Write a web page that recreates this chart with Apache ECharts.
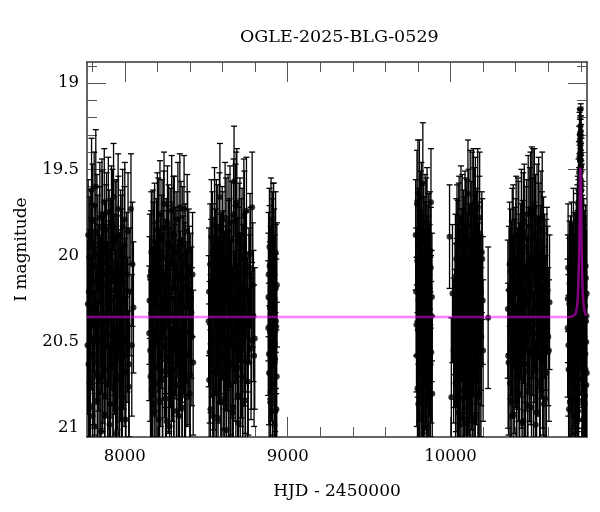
<!DOCTYPE html>
<html>
<head>
<meta charset="utf-8">
<script src="https://cdn.jsdelivr.net/npm/echarts@6/dist/echarts.min.js"></script>
<style>html,body{margin:0;padding:0;background:#fff}#c{width:600px;height:512px}</style>
</head>
<body>
<div id="c"></div>
<script>
// ---- Data: [HJD-2450000, I mag, error] per observing season (two interleaved runs each) ----
const obs2017 = [[7771,20.52,.40],[7775,19.88,.32],[7779,20.21,.36],[7784,20.74,.44],[7788,19.95,.33],[7791,20.40,.38],[7796,19.62,.30],[7800,20.05,.35],[7803,20.93,.46],[7808,20.30,.37],[7812,19.71,.31],[7816,20.62,.42],[7819,20.15,.36],[7822,19.60,.33],[7827,20.47,.39],[7831,20.84,.45],[7835,19.99,.34],[7838,20.36,.38],[7842,20.71,.43],[7847,19.78,.32],[7851,20.27,.37],[7855,21.02,.48],[7858,20.10,.35],[7862,19.84,.33],[7866,20.56,.41],[7871,20.33,.38],[7874,19.69,.31],[7878,20.81,.44],[7883,20.44,.39],[7886,19.93,.34],[7890,20.18,.36],[7895,20.66,.42],[7899,19.75,.32],[7902,20.38,.38],[7906,20.98,.47],[7911,20.02,.35],[7915,20.54,.40],[7918,19.81,.33],[7922,20.26,.37],[7927,20.77,.44],[7931,19.66,.31],[7934,20.42,.39],[7939,20.12,.36],[7943,20.89,.46],[7947,19.90,.34],[7950,20.35,.38],[7955,20.60,.41],[7959,19.73,.32],[7963,20.22,.37],[7967,21.08,.49],[7971,20.48,.40],[7975,19.96,.34],[7979,20.69,.43],[7983,20.08,.35],[7987,19.83,.33],[7991,20.31,.38],[7996,20.58,.41],[8000,19.79,.33],[8004,20.95,.47],[8009,20.20,.36],[8014,20.45,.40],[8020,19.86,.34],[8027,20.63,.42],[8038,19.73,.32],[8047,20.05,.36]];
const obs2017b = [[7773,20.28,.37],[7777,20.63,.42],[7782,20.01,.35],[7786,20.47,.39],[7790,20.88,.46],[7794,20.14,.36],[7798,20.39,.38],[7802,19.80,.33],[7806,20.57,.41],[7810,20.22,.37],[7814,20.99,.47],[7818,20.06,.35],[7824,20.33,.38],[7829,19.87,.34],[7833,20.69,.43],[7837,20.18,.36],[7840,20.50,.40],[7845,19.94,.34],[7849,20.79,.44],[7853,20.25,.37],[7857,20.41,.39],[7860,19.76,.32],[7864,20.60,.42],[7869,20.11,.36],[7873,20.36,.38],[7876,20.92,.47],[7881,20.03,.35],[7885,20.53,.41],[7888,19.85,.33],[7893,20.29,.37],[7897,20.74,.44],[7901,20.16,.36],[7904,19.97,.35],[7909,20.46,.40],[7913,20.86,.46],[7917,20.09,.35],[7920,20.37,.38],[7925,19.83,.33],[7929,20.65,.42],[7933,20.20,.37],[7937,20.52,.40],[7941,19.91,.34],[7945,20.31,.38],[7949,21.03,.49],[7953,20.13,.36],[7957,20.43,.39],[7961,19.88,.34],[7965,20.71,.43],[7969,20.24,.37],[7973,20.55,.41],[7977,20.00,.35],[7981,20.34,.38],[7985,20.82,.45],[7989,20.15,.36],[7993,20.49,.40],[7998,19.94,.34],[8002,20.27,.37],[8007,20.67,.43],[8012,20.11,.36],[8017,20.40,.39],[8024,20.76,.44],[8031,20.21,.37],[8043,20.52,.41],[8053,20.30,.38]];
const obs2018 = [[8150,20.45,.39],[8154,20.12,.36],[8158,20.70,.43],[8163,19.98,.35],[8167,20.33,.38],[8171,20.86,.45],[8175,20.05,.36],[8179,20.51,.40],[8183,19.92,.34],[8187,20.28,.37],[8191,20.74,.44],[8196,20.16,.36],[8200,19.85,.33],[8204,20.40,.39],[8208,20.95,.47],[8212,20.22,.37],[8216,19.76,.31],[8221,20.58,.41],[8225,20.35,.38],[8229,19.90,.34],[8233,20.67,.42],[8237,20.10,.36],[8241,19.70,.30],[8246,20.48,.40],[8250,20.83,.45],[8254,20.02,.35],[8258,20.30,.38],[8262,19.81,.33],[8267,20.61,.42],[8271,20.19,.36],[8275,20.99,.48],[8279,19.95,.34],[8283,20.38,.39],[8288,19.74,.32],[8292,20.55,.41],[8296,20.25,.37],[8300,20.79,.44],[8304,19.88,.34],[8309,20.44,.39],[8313,20.07,.35],[8317,20.90,.46],[8321,20.32,.38],[8326,19.79,.33],[8330,20.64,.42],[8334,20.14,.36],[8338,19.72,.31],[8343,20.50,.40],[8347,20.27,.37],[8351,20.88,.46],[8356,19.94,.34],[8360,20.41,.39],[8364,19.73,.31],[8369,20.18,.37],[8373,20.72,.43],[8378,20.36,.38],[8383,19.86,.33],[8388,20.57,.41],[8393,20.09,.36],[8399,20.80,.45],[8405,20.24,.37],[8412,20.47,.40],[8420,20.62,.42]];
const obs2018b = [[8152,20.26,.37],[8156,20.55,.41],[8161,20.09,.35],[8165,20.78,.44],[8169,20.35,.38],[8173,19.96,.34],[8177,20.43,.39],[8181,20.92,.47],[8185,20.17,.36],[8189,20.50,.40],[8194,20.02,.35],[8198,20.64,.42],[8202,20.29,.37],[8206,19.89,.34],[8210,20.46,.40],[8214,20.84,.45],[8218,20.12,.36],[8223,20.38,.39],[8227,20.00,.35],[8231,20.71,.43],[8235,20.24,.37],[8239,19.84,.33],[8244,20.53,.41],[8248,20.15,.36],[8252,20.41,.39],[8256,20.96,.48],[8260,20.06,.35],[8265,20.32,.38],[8269,19.93,.34],[8273,20.60,.42],[8277,20.21,.37],[8281,20.48,.40],[8286,20.87,.46],[8290,20.04,.35],[8294,20.34,.38],[8298,19.87,.33],[8302,20.66,.42],[8306,20.19,.37],[8311,20.42,.39],[8315,19.98,.35],[8319,20.75,.44],[8324,20.28,.37],[8328,20.52,.41],[8332,20.10,.36],[8336,20.93,.47],[8341,20.23,.37],[8345,19.91,.34],[8349,20.45,.40],[8353,20.68,.43],[8358,20.13,.36],[8362,20.37,.38],[8367,20.81,.45],[8371,20.05,.35],[8376,20.30,.38],[8381,20.58,.41],[8386,19.97,.34],[8391,20.44,.39],[8396,20.20,.37],[8402,20.69,.43],[8409,20.33,.38],[8416,20.11,.36]];
const obs2019 = [[8515,20.38,.38],[8518,20.72,.44],[8524,20.05,.35],[8527,20.51,.40],[8532,19.89,.33],[8535,20.27,.37],[8540,20.93,.47],[8542,20.14,.36],[8548,20.60,.41],[8551,19.82,.33],[8556,20.42,.39],[8558,20.08,.35],[8564,20.79,.45],[8567,20.31,.38],[8571,19.93,.34],[8576,20.56,.41],[8579,20.19,.37],[8584,19.66,.31],[8586,20.46,.40],[8592,20.85,.45],[8595,20.11,.36],[8600,20.34,.38],[8602,19.97,.34],[8608,20.68,.43],[8611,20.23,.37],[8616,19.78,.32],[8618,20.49,.40],[8624,21.01,.48],[8627,20.16,.36],[8632,20.39,.39],[8634,19.86,.33],[8640,20.63,.42],[8643,20.02,.35],[8648,20.75,.44],[8650,20.28,.37],[8656,19.91,.34],[8659,20.53,.41],[8664,20.13,.36],[8666,20.88,.46],[8671,19.57,.32],[8675,20.36,.38],[8680,19.80,.33],[8682,20.66,.42],[8688,19.69,.31],[8691,20.44,.39],[8696,20.07,.35],[8698,20.97,.47],[8704,20.25,.37],[8707,19.88,.33],[8712,20.58,.41],[8714,20.32,.38],[8720,19.95,.34],[8723,20.70,.43],[8728,20.18,.36],[8731,19.77,.33],[8736,20.47,.40],[8739,20.84,.45],[8744,20.10,.36],[8747,19.74,.31],[8753,20.40,.39],[8758,20.62,.42],[8762,20.21,.37],[8769,19.99,.35],[8775,20.54,.41],[8782,19.72,.32],[8790,20.35,.38],[8798,20.48,.41]];
const obs2019b = [[8517,20.21,.37],[8521,20.56,.41],[8526,20.89,.46],[8530,20.15,.36],[8534,20.43,.39],[8538,19.98,.35],[8544,20.67,.43],[8546,20.30,.38],[8550,20.05,.35],[8554,20.78,.44],[8560,20.37,.38],[8562,19.90,.34],[8566,20.52,.41],[8569,20.18,.36],[8573,20.95,.47],[8574,20.26,.37],[8581,19.85,.33],[8582,20.45,.40],[8588,20.12,.36],[8590,20.70,.43],[8597,20.33,.38],[8598,19.94,.34],[8604,20.59,.42],[8606,20.09,.35],[8613,20.41,.39],[8614,20.83,.45],[8620,20.20,.37],[8622,19.88,.33],[8629,20.50,.40],[8630,20.27,.37],[8636,20.74,.44],[8638,20.03,.35],[8645,20.38,.38],[8646,19.81,.33],[8652,20.62,.42],[8654,20.16,.36],[8661,20.47,.40],[8662,20.91,.47],[8668,19.76,.32],[8669,20.29,.38],[8677,20.55,.41],[8678,20.06,.35],[8684,19.71,.31],[8686,20.35,.38],[8693,20.81,.45],[8694,20.14,.36],[8700,20.44,.39],[8702,19.92,.34],[8709,20.65,.43],[8710,20.24,.37],[8716,20.02,.35],[8718,20.53,.41],[8725,20.86,.46],[8726,20.19,.37],[8733,20.40,.39],[8734,19.84,.33],[8741,20.61,.42],[8742,20.11,.36],[8750,20.36,.38],[8755,20.73,.44],[8765,20.25,.37],[8772,20.07,.35],[8778,20.49,.40],[8786,20.17,.36],[8794,20.58,.41]];
const obs2020 = [[8881,20.42,.39],[8883,20.11,.36],[8886,20.68,.43],[8888,19.95,.34],[8891,20.30,.38],[8893,20.85,.45],[8896,20.20,.37],[8898,19.88,.33],[8900,20.55,.41],[8903,20.36,.38],[8905,20.02,.35],[8907,20.76,.44],[8910,20.14,.36],[8912,19.92,.34],[8914,19.90,.32],[8916,20.47,.40],[8919,20.98,.47],[8921,20.25,.37],[8923,20.60,.42],[8926,19.98,.35],[8928,20.38,.39],[8931,20.89,.46],[8934,20.17,.36]];
const obs2020b = [[8882,20.24,.37],[8885,20.57,.41],[8889,20.06,.35],[8892,20.44,.39],[8895,20.79,.44],[8899,20.15,.36],[8902,20.33,.38],[8906,19.97,.34],[8909,20.62,.42],[8913,20.28,.37],[8917,20.08,.35],[8920,20.51,.40],[8924,20.90,.46],[8927,20.19,.37],[8930,20.41,.39],[8933,20.70,.43]];
const obs2022 = [[9786,19.88,.32],[9791,20.40,.39],[9794,19.70,.31],[9797,20.77,.44],[9800,19.64,.31],[9803,20.26,.37],[9806,20.55,.41],[9809,19.67,.34],[9812,20.95,.47],[9815,20.17,.36],[9818,20.46,.40],[9821,19.78,.32],[9824,20.33,.38],[9827,20.68,.43],[9830,19.58,.35],[9832,20.12,.36],[9835,20.84,.45],[9838,20.01,.35],[9841,20.37,.38],[9844,19.86,.33],[9847,20.59,.42],[9850,20.22,.37],[9853,20.99,.48],[9856,19.81,.32],[9859,20.44,.39],[9862,20.06,.35],[9865,20.71,.43],[9868,20.29,.37],[9871,20.52,.41],[9874,19.97,.34],[9877,20.63,.42],[9880,19.69,.31],[9884,20.35,.38],[9888,20.80,.45]];
const obs2022b = [[9789,20.21,.37],[9793,20.58,.41],[9796,20.03,.35],[9799,20.43,.39],[9802,20.86,.46],[9805,19.95,.34],[9808,20.31,.38],[9811,20.66,.43],[9814,20.10,.36],[9817,19.84,.33],[9820,20.50,.40],[9823,20.92,.47],[9826,20.15,.36],[9829,20.38,.39],[9833,19.92,.34],[9836,20.61,.42],[9839,20.25,.37],[9842,20.76,.44],[9845,20.04,.35],[9848,20.42,.39],[9851,19.88,.33],[9854,20.27,.37],[9857,20.69,.43],[9860,20.13,.36],[9863,20.48,.40],[9866,19.99,.35],[9869,20.83,.45],[9872,20.19,.37],[9876,20.40,.39],[9879,20.07,.35],[9882,20.56,.41],[9886,20.24,.37]];
const obs2023 = [[9994,19.89,.30],[10005,20.82,.46],[10012,20.22,.40],[10019,20.55,.42],[10028,20.31,.38],[10031,20.74,.44],[10035,20.02,.35],[10037,20.48,.40],[10040,19.93,.34],[10044,20.66,.43],[10046,20.19,.37],[10049,20.91,.47],[10053,19.87,.33],[10055,20.40,.39],[10058,20.13,.36],[10062,20.58,.41],[10064,19.80,.32],[10067,20.35,.38],[10071,20.83,.45],[10073,20.08,.35],[10076,20.51,.40],[10080,19.96,.34],[10082,20.27,.37],[10085,20.70,.43],[10089,19.84,.33],[10091,20.44,.39],[10094,20.16,.36],[10098,20.97,.48],[10100,19.90,.34],[10103,20.37,.38],[10107,19.64,.31],[10109,20.62,.42],[10112,20.05,.35],[10116,20.29,.38],[10121,19.73,.34],[10123,20.53,.41],[10125,20.86,.45],[10128,20.10,.36],[10133,19.76,.36],[10135,20.42,.39],[10138,20.22,.37],[10141,19.70,.32],[10144,20.68,.43],[10147,20.00,.35],[10150,20.93,.47],[10153,19.79,.36],[10156,20.33,.38],[10159,20.57,.41],[10162,19.95,.34],[10164,20.15,.36],[10167,19.72,.34],[10170,20.46,.40],[10173,20.80,.45],[10176,20.04,.35],[10179,19.78,.38],[10182,20.39,.39],[10187,20.63,.42],[10192,19.98,.35],[10198,20.26,.37],[10231,20.36,.41]];
const obs2023b = [[10026,20.48,.40],[10030,20.12,.36],[10033,20.60,.42],[10039,20.27,.37],[10042,20.85,.45],[10045,20.03,.35],[10048,20.40,.39],[10051,19.92,.34],[10054,20.67,.43],[10057,20.22,.37],[10060,20.49,.40],[10063,20.94,.47],[10066,20.08,.35],[10069,20.33,.38],[10072,19.86,.33],[10075,20.57,.41],[10078,20.18,.36],[10081,20.78,.44],[10084,20.01,.35],[10087,20.38,.39],[10090,20.62,.42],[10093,19.89,.34],[10096,20.28,.37],[10099,20.53,.41],[10102,20.11,.36],[10105,20.88,.46],[10108,20.20,.37],[10111,19.83,.33],[10114,20.45,.40],[10117,20.69,.43],[10120,20.06,.35],[10124,20.35,.38],[10127,19.91,.34],[10130,20.59,.42],[10132,20.24,.37],[10136,20.96,.48],[10139,20.14,.36],[10142,20.43,.39],[10146,19.82,.33],[10149,20.30,.38],[10152,20.72,.44],[10155,20.09,.35],[10158,20.51,.40],[10161,19.97,.34],[10165,20.36,.38],[10168,20.82,.45],[10171,20.17,.36],[10174,20.41,.39],[10177,19.87,.33],[10180,20.64,.42],[10184,20.25,.37],[10189,20.47,.40],[10195,20.02,.35],[10200,20.55,.41]];
const obs2024 = [[10352,20.31,.40],[10356,20.62,.42],[10363,20.05,.36],[10367,20.44,.39],[10371,20.85,.45],[10375,20.17,.37],[10379,19.96,.35],[10381,20.53,.41],[10387,20.28,.38],[10389,20.92,.47],[10395,20.08,.36],[10397,20.39,.39],[10403,19.88,.34],[10405,20.71,.43],[10411,20.21,.37],[10413,20.49,.40],[10419,19.92,.35],[10421,20.80,.45],[10427,20.12,.36],[10429,20.34,.38],[10435,19.84,.34],[10437,20.59,.41],[10443,20.03,.35],[10445,20.96,.48],[10451,20.25,.37],[10453,19.80,.33],[10459,20.45,.40],[10461,20.67,.43],[10467,19.90,.34],[10469,20.19,.37],[10475,20.87,.46],[10477,19.76,.34],[10483,20.37,.38],[10485,20.55,.41],[10491,19.73,.33],[10493,20.10,.36],[10499,19.75,.38],[10501,20.42,.39],[10507,19.78,.40],[10509,20.64,.42],[10515,19.72,.34],[10517,20.30,.38],[10523,20.98,.48],[10525,20.06,.35],[10531,19.82,.35],[10533,20.50,.40],[10539,20.23,.37],[10541,19.79,.36],[10547,20.76,.44],[10549,20.14,.36],[10555,19.85,.34],[10557,20.40,.39],[10563,19.77,.37],[10565,20.58,.42],[10571,20.01,.35],[10576,20.33,.38],[10581,20.83,.45],[10587,20.16,.37],[10592,20.10,.38],[10600,20.47,.40],[10608,20.27,.39]];
const obs2024b = [[10354,20.58,.42],[10359,20.20,.37],[10365,20.74,.44],[10369,20.09,.36],[10373,20.42,.39],[10377,20.93,.47],[10383,20.26,.38],[10385,19.94,.35],[10391,20.61,.42],[10393,20.15,.36],[10399,20.48,.40],[10401,20.02,.35],[10407,20.84,.45],[10409,20.31,.38],[10415,19.89,.34],[10417,20.55,.41],[10423,20.18,.37],[10425,20.70,.43],[10431,20.05,.35],[10433,20.43,.39],[10439,20.97,.48],[10441,20.22,.37],[10447,19.86,.34],[10449,20.36,.38],[10455,20.63,.42],[10457,20.11,.36],[10463,20.50,.40],[10465,19.95,.35],[10471,20.27,.37],[10473,20.79,.44],[10479,20.08,.36],[10481,20.38,.39],[10487,19.83,.34],[10489,20.57,.41],[10495,20.21,.37],[10497,20.88,.46],[10503,19.90,.35],[10505,20.33,.38],[10511,20.66,.43],[10513,20.04,.35],[10519,20.45,.40],[10521,19.87,.34],[10527,20.28,.38],[10529,20.91,.47],[10535,20.13,.36],[10537,20.52,.41],[10543,19.93,.35],[10545,20.35,.38],[10551,20.73,.44],[10553,20.07,.36],[10559,20.44,.39],[10561,19.98,.35],[10567,20.62,.42],[10569,20.24,.37],[10573,20.86,.46],[10578,20.12,.36],[10584,20.39,.39],[10589,20.68,.43],[10596,20.20,.37],[10604,20.55,.41]];
const obs2025 = [[10719,20.42,.40],[10722,20.07,.37],[10725,20.66,.43],[10729,20.28,.38],[10733,20.85,.45],[10737,20.13,.36],[10741,20.50,.41],[10745,20.83,.45],[10748,20.19,.38],[10752,20.38,.39],[10755,19.96,.35],[10758,20.57,.42],[10761,20.24,.37],[10764,20.70,.44],[10766,20.45,.40],[10768,20.12,.36],[10770,20.61,.42],[10772,20.04,.35],[10774,20.39,.39],[10776,19.98,.34],[10777,20.52,.41],[10778,20.16,.36],[10779,19.92,.33],[10780,20.47,.40],[10781,20.05,.35],[10782,19.86,.32],[10783,20.33,.38],[10784,19.95,.33],[10785,20.58,.42],[10786,19.74,.30],[10787,20.20,.36],[10788,19.62,.28],[10789,19.95,.32],[10790,19.52,.27],[10790.5,20.24,.36],[10791,19.70,.29],[10792,19.43,.26],[10792.5,20.05,.33],[10793,19.58,.28],[10794,19.33,.18],[10794.5,19.85,.30],[10795,19.45,.24],[10796,19.30,.15],[10796.5,19.72,.28],[10797,19.38,.22],[10797.5,19.25,.10],[10798,19.60,.26],[10798.5,19.31,.17],[10799,19.52,.24],[10799.5,19.28,.16],[10800,19.78,.29],[10800.5,19.41,.22],[10801,19.66,.27],[10802,19.48,.24],[10802.5,20.02,.33],[10803,19.70,.28],[10804,19.59,.27],[10804.5,20.18,.35],[10805,19.93,.31],[10806,19.76,.29],[10807,20.29,.37],[10808,19.97,.32],[10809,20.40,.39],[10810,19.88,.31],[10811,20.54,.41],[10812,20.08,.34],[10814,20.65,.42],[10815,20.15,.36],[10817,20.72,.44],[10818,20.02,.35],[10820,20.44,.40],[10822,20.18,.36],[10824,20.86,.46],[10826,20.29,.38],[10828,20.57,.42],[10830,20.06,.35],[10832,20.38,.39],[10834,20.75,.44],[10836,20.22,.37]];
const obs2025b = [[10720,20.25,.37],[10724,20.52,.41],[10727,20.89,.46],[10731,20.16,.36],[10735,20.44,.40],[10739,20.70,.43],[10743,20.05,.36],[10746,20.34,.38],[10750,20.62,.42],[10753,20.21,.37],[10757,20.93,.47],[10760,20.40,.39],[10763,20.11,.36],[10767,20.74,.44],[10769,20.28,.38],[10771,20.88,.46],[10773,20.20,.37],[10775,20.56,.41],[10777.5,20.31,.38],[10778.5,20.80,.45],[10779.5,20.09,.35],[10780.5,20.60,.42],[10781.5,20.35,.38],[10782.5,20.90,.46],[10783.5,20.12,.36],[10784.5,20.46,.40],[10785.5,19.88,.32],[10786.5,20.71,.43],[10787.5,20.02,.34],[10788.5,20.37,.38],[10789.5,19.79,.30],[10790.8,20.55,.41],[10791.5,20.12,.35],[10792.8,19.64,.28],[10793.5,20.30,.37],[10794.2,19.55,.26],[10794.8,20.00,.33],[10795.5,19.68,.28],[10795.8,20.42,.39],[10796.2,19.50,.25],[10796.8,19.88,.31],[10797.2,19.42,.23],[10797.8,20.10,.35],[10798.2,19.36,.21],[10798.8,19.79,.30],[10799.2,19.45,.24],[10799.8,20.22,.37],[10800.2,19.56,.26],[10800.8,19.95,.32],[10801.5,19.62,.27],[10802.2,20.33,.38],[10802.8,19.74,.29],[10803.5,20.12,.35],[10804.2,19.81,.30],[10805.5,20.48,.40],[10806.5,20.08,.34],[10807.5,20.63,.42],[10808.5,20.26,.37],[10809.5,20.84,.45],[10810.5,20.14,.36],[10812,20.39,.39],[10813,20.95,.47],[10816,20.33,.38],[10819,20.60,.42],[10821,20.10,.36],[10823,20.47,.40],[10825,20.81,.45],[10827,20.24,.37],[10829,20.66,.43],[10831,20.13,.36],[10833,20.50,.40],[10835,20.35,.38],[10837,20.68,.43]];

// ---- Model (microlensing fit) ----
const modelHjd = [7768,10700,10737.5,10757.5,10767.5,10772.5,10777.5,10780,10782.5,10784,10785.5,10786.5,10787.5,10788.5,10789.5,10790.5,10791.5,10792.5,10793.5,10794.5,10795.5,10796.5,10797.5,10798.5,10799.5,10800.5,10801.5,10802.5,10803.5,10804.5,10805.5,10806.5,10807.5,10808.5,10809.5,10811,10812.5,10815,10817.5,10822.5,10827.5,10837.5,10838];
const modelMag = [20.356,20.356,20.354,20.348,20.336,20.320,20.289,20.262,20.222,20.190,20.148,20.115,20.075,20.029,19.977,19.917,19.849,19.775,19.697,19.620,19.554,19.507,19.490,19.507,19.554,19.620,19.697,19.775,19.849,19.917,19.977,20.029,20.075,20.115,20.148,20.190,20.222,20.262,20.289,20.320,20.336,20.348,20.348];

// ---- Axes ----
const xMin = 7768, xMax = 10838;
const yMin = 18.878, yMax = 21.051;
const xMajorTicks = [8000, 9000, 10000];
const xMinorTicks = [7800, 8200, 8400, 8600, 8800, 9200, 9400, 9600, 9800, 10200, 10400, 10600, 10800];
const yMajorTicks = [19, 19.5, 20, 20.5, 21];
const yMinorTicks = [18.9, 19.1, 19.2, 19.3, 19.4, 19.6, 19.7, 19.8, 19.9, 20.1, 20.2, 20.3, 20.4, 20.6, 20.7, 20.8, 20.9];

const allObs = [].concat(obs2017, obs2017b, obs2018, obs2018b, obs2019, obs2019b, obs2020, obs2020b,
  obs2022, obs2022b, obs2023, obs2023b, obs2024, obs2024b, obs2025, obs2025b);

const FONT = 'DejaVu Serif';
const lineCol = '#333';
const tickCol = '#555';

function xAx(pos, ticks, len, showLine, showLabel) {
  const a = {
    type: 'value', position: pos, min: xMin, max: xMax,
    splitLine: {show: false},
    axisLine: {show: showLine, onZero: false, lineStyle: {color: lineCol, width: 1.5}},
    axisTick: {show: true, inside: true, length: len, customValues: ticks, lineStyle: {color: tickCol, width: 1}},
    axisLabel: {show: showLabel, customValues: ticks, formatter: v => String(v), fontFamily: FONT, fontSize: 16.5, color: '#000', margin: 11}
  };
  if (showLabel) {
    a.name = 'HJD - 2450000'; a.nameLocation = 'middle'; a.nameGap = 46;
    a.nameTextStyle = {fontFamily: FONT, fontSize: 17, color: '#000'};
  }
  return a;
}
function yAx(pos, ticks, len, showLine, showLabel) {
  const a = {
    type: 'value', position: pos, min: yMin, max: yMax, inverse: true,
    splitLine: {show: false},
    axisLine: {show: showLine, onZero: false, lineStyle: {color: lineCol, width: 1.5}},
    axisTick: {show: true, inside: true, length: len, customValues: ticks, lineStyle: {color: tickCol, width: 1}},
    axisLabel: {show: showLabel, customValues: ticks, formatter: v => String(v), fontFamily: FONT, fontSize: 16.5, color: '#000', margin: 8}
  };
  if (showLabel) {
    a.name = 'I magnitude'; a.nameLocation = 'middle'; a.nameGap = 57;
    a.nameTextStyle = {fontFamily: FONT, fontSize: 17, color: '#000'};
  }
  return a;
}

const chart = echarts.init(document.getElementById('c'), null, {renderer: 'canvas'});
chart.setOption({
  animation: false,
  backgroundColor: '#fff',
  title: {
    text: 'OGLE-2025-BLG-0529', left: 235, top: 23,
    textStyle: {fontFamily: FONT, fontSize: 17.5, fontWeight: 'normal', color: '#000'}
  },
  grid: {left: 87, right: 13, top: 62, bottom: 75, containLabel: false},
  xAxis: [
    xAx('bottom', xMajorTicks, 20, true, true),
    xAx('bottom', xMinorTicks, 10, false, false),
    xAx('top', xMajorTicks, 20, true, false),
    xAx('top', xMinorTicks, 10, false, false)
  ],
  yAxis: [
    yAx('left', yMajorTicks, 19, true, true),
    yAx('left', yMinorTicks, 10, false, false),
    yAx('right', yMajorTicks, 19, true, false),
    yAx('right', yMinorTicks, 10, false, false)
  ],
  series: [
    {
      type: 'custom', name: 'errors', xAxisIndex: 0, yAxisIndex: 0,
      data: allObs, encode: {x: 0, y: 1}, clip: true, z: 2,
      renderItem: function (params, api) {
        const t = api.value(0), m = api.value(1), e = api.value(2);
        const cs = params.coordSys;
        const p1 = api.coord([t, m - e]);
        const p2 = api.coord([t, m + e]);
        const y0 = cs.y, y1 = cs.y + cs.height;
        const ya = Math.max(p1[1], y0), yb = Math.min(p2[1], y1);
        const st = {stroke: '#000', lineWidth: 1.3};
        const ch = [{type: 'line', shape: {x1: p1[0], y1: ya, x2: p1[0], y2: yb}, style: st}];
        if (p1[1] >= y0) ch.push({type: 'line', shape: {x1: p1[0] - 3, y1: p1[1], x2: p1[0] + 3, y2: p1[1]}, style: st});
        if (p2[1] <= y1) ch.push({type: 'line', shape: {x1: p2[0] - 3, y1: p2[1], x2: p2[0] + 3, y2: p2[1]}, style: st});
        return {type: 'group', children: ch};
      }
    },
    {
      type: 'scatter', name: 'points', xAxisIndex: 0, yAxisIndex: 0,
      data: allObs.map(d => [d[0], d[1]]), symbol: 'circle', symbolSize: 6,
      itemStyle: {color: '#000'}, clip: true, z: 3, large: false
    },
    {
      type: 'line', name: 'model', xAxisIndex: 0, yAxisIndex: 0,
      data: modelHjd.map((t, i) => [t, modelMag[i]]), showSymbol: false, clip: true, z: 4,
      lineStyle: {color: 'rgba(255,0,255,0.5)', width: 2.5}
    }
  ]
});
</script>
</body>
</html>
